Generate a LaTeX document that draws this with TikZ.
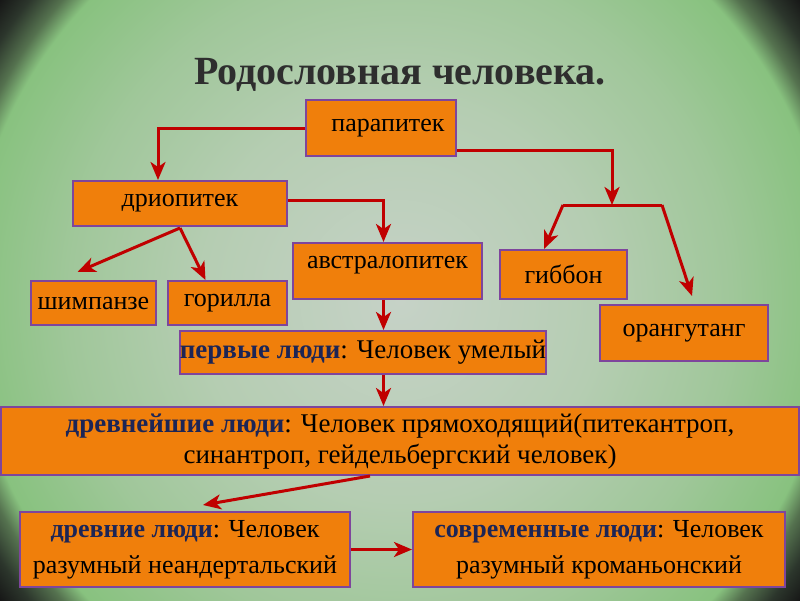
\documentclass[tikz,border=0pt]{standalone}
\usepackage{fontspec}
\setmainfont{Liberation Serif}
\usetikzlibrary{calc,arrows.meta}

\definecolor{bgmid}{HTML}{C6D2C7}
\definecolor{bginner}{HTML}{B5CDB2}
\definecolor{bggreen}{HTML}{A0C79A}
\definecolor{bgring}{HTML}{88C27F}
\definecolor{bgshade}{HTML}{55724F}
\definecolor{bgdeep}{HTML}{2C362C}
\definecolor{bgdark}{HTML}{151515}
\definecolor{boxfill}{HTML}{F07F0B}
\definecolor{boxline}{HTML}{7E459C}
\definecolor{arrred}{HTML}{C00000}
\definecolor{kindblue}{HTML}{1C2556}
\definecolor{titlegray}{HTML}{2E2E2E}

\pgfdeclareradialshading{vignette}{\pgfpoint{0bp}{0bp}}{color(0bp)=(bgmid); color(40bp)=(bginner); color(66bp)=(bggreen); color(86bp)=(bgring); color(90bp)=(bgshade); color(95bp)=(bgdeep); color(100bp)=(bgdark); color(110bp)=(bgdark)}

\tikzset{
  box/.style={draw=boxline, fill=boxfill, line width=2pt, inner sep=0pt, align=center,
    font=\fontsize{26}{31}\selectfont},
  arr/.style={draw=arrred, line width=3pt, -{Stealth[length=18pt,width=15pt,inset=5pt]}},
  link/.style={draw=arrred, line width=3pt},
}
\newcommand\kind[1]{\textbf{\color{kindblue}#1}}

\begin{document}
\begin{tikzpicture}[x=1pt,y=-1pt]
\useasboundingbox (0,0) rectangle (800,600);
\begin{scope}
  \clip (0,0) rectangle (800,600);
  \node[inner sep=0pt, outer sep=0pt, transform shape, scale=5] (bg) at (400,300) {\pgfuseshading{vignette}};
\end{scope}

\node[font=\fontsize{40}{46}\selectfont\bfseries, text=titlegray] (title) at (400,75) {Родословная человека.};

\node[box, minimum width=150pt, minimum height=56pt] (para) at (381,128) {\hspace{14pt}парапитек};
\node[box, minimum width=214pt, minimum height=45pt] (drio) at (180,203.5) {дриопитек};
\node[box, minimum width=189pt, minimum height=56pt, text depth=18pt] (avstr) at (387.5,271) {австралопитек};
\node[box, minimum width=127pt, minimum height=49pt] (gibbon) at (563.5,274.5) {гиббон};
\node[box, minimum width=125pt, minimum height=44pt] (shimp) at (93.5,303) {шимпанзе};
\node[box, minimum width=119pt, minimum height=44pt] (gor) at (227.5,303) {горилла};
\node[box, minimum width=168pt, minimum height=56pt] (orang) at (684,333) {орангутанг};
\node[box, minimum width=364pt, minimum height=43pt, font=\fontsize{27}{31}\selectfont] (pervye) at (363,352.5)
  {\kind{первые люди}: Человек умелый};
\node[box, minimum width=798pt, minimum height=68pt, font=\fontsize{27}{31}\selectfont] (drevn) at (400,441)
  {\kind{древнейшие люди}: Человек прямоходящий(питекантроп,\\синантроп, гейдельбергский человек)};
\node[box, minimum width=330pt, minimum height=75pt, font=\fontsize{26}{36}\selectfont] (drevnie) at (185,549.5)
  {\kind{древние люди}: Человек\\разумный неандертальский};
\node[box, minimum width=372pt, minimum height=75pt, font=\fontsize{26}{36}\selectfont] (sovr) at (599,549.5)
  {\kind{современные люди}: Человек\\разумный кроманьонский};

\coordinate (forkL) at (563,205);
\coordinate (forkM) at (612,205);
\coordinate (forkR) at (662,205);
\coordinate (spine) at ($(avstr.south)+(-4,0)$);
\coordinate (split) at ($(drio.south)+(0,1)$);

\draw[arr] (para.west) -| ($(drio.north)+(-22,0)$);
\draw[arr] ($(para.east)+(0,22)$) -| (forkM);
\draw[link] (forkL) -- (forkR);
\draw[arr] (forkL) -- ($(gibbon.north)+(-19.5,0)$);
\draw[arr] (forkR) -- ($(orang.north)+(8,-8)$);
\draw[arr] ($(drio.east)+(0,-3)$) -| ($(avstr.north)+(-4,0)$);
\draw[arr] (split) -- ($(shimp.north)+(-16,-8)$);
\draw[arr] (split) -- ($(gor.north)+(-22,0)$);
\draw[arr] (spine) -- (spine |- pervye.north);
\draw[arr] (spine |- pervye.south) -- (spine |- drevn.north);
\draw[arr] ($(drevn.south)+(-30,0)$) -- ($(drevnie.north)+(18,-6)$);
\draw[arr] (drevnie.east) -- (sovr.west);
\end{tikzpicture}
\end{document}
